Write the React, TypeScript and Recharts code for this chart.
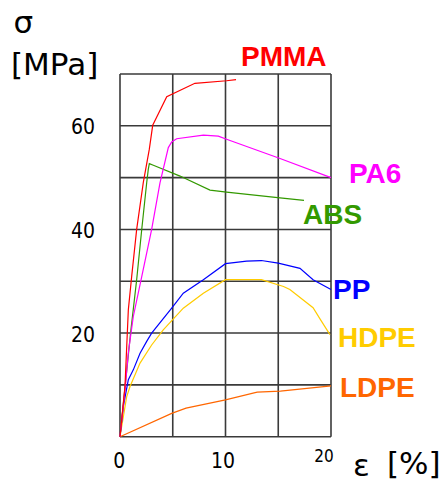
import React from "react";
import { LineChart, Line, XAxis, YAxis, CartesianGrid, Customized } from "recharts";

// Stress–strain curves of common thermoplastics: [strain %, stress MPa]
const pmma: [number, number][] = [
  [0, 0], [0.47, 9.7], [0.79, 24.5], [1.11, 31], [1.58, 40], [2.21, 49.1],
  [2.78, 55.5], [3.1, 60.1], [4.43, 65.6], [7.1, 68.2], [10.1, 68.7], [11.0, 68.9],
];
const pa6: [number, number][] = [
  [0, 0], [0.47, 9], [0.79, 16.2], [1.26, 23.2], [2.06, 30.9], [3.0, 40],
  [3.79, 49], [4.58, 55.8], [4.9, 56.9], [5.37, 57.5], [7.9, 58.2], [9.32, 58],
  [10.1, 57.4], [15.17, 53.7], [20, 50],
];
const abs: [number, number][] = [
  [0, 0], [0.45, 9], [1.0, 20], [1.58, 30.3], [2.06, 40], [2.53, 49], [2.68, 51.6],
  [2.78, 52.7], [3.16, 52.4], [5.69, 50.3], [8.53, 47.6], [10.1, 47.2],
  [15.17, 46.1], [17.44, 45.6],
];
const pp: [number, number][] = [
  [0, 0], [0.31, 5.8], [0.79, 11], [1.26, 12.9], [1.9, 16.1], [2.53, 18.4],
  [3.0, 20], [4.9, 24.8], [6.0, 27.7], [7.9, 30.3], [10.0, 33.4], [12.0, 33.9],
  [13.4, 34.0], [15.0, 33.5], [17.06, 32.5], [18.3, 30.3], [20, 28.4],
];
const hdpe: [number, number][] = [
  [0, 0], [0.63, 7.7], [0.95, 9.7], [1.9, 14.2], [3.0, 17.7], [4.1, 20.6],
  [6.0, 24.8], [7.9, 27.7], [10.0, 30.3], [13.4, 30.3], [15.5, 29], [16.1, 28.4],
  [18.3, 24.9], [19.0, 22.6], [19.9, 19.7],
];
const ldpe: [number, number][] = [
  [0, 0], [4.9, 4.5], [6.26, 5.5], [10.0, 7.1], [13.0, 8.6], [15.2, 8.8], [20, 9.8],
];

const strainTicks = [0, 5, 10, 15, 20];
const strainLabels = [0, 10, 20];
const stressTicks = [0, 10, 20, 30, 40, 50, 60, 70];
const stressLabels = [20, 40, 60];

const toRows = (pts: [number, number][]) => pts.map(([e, s]) => ({ e, s }));

const series = [
  { name: "LDPE", pts: ldpe, color: "#FF6600", lx: 340, ly: 397 },
  { name: "HDPE", pts: hdpe, color: "#FFCC00", lx: 338, ly: 347 },
  { name: "PP", pts: pp, color: "#0000FF", lx: 333, ly: 299 },
  { name: "ABS", pts: abs, color: "#339900", lx: 303, ly: 224 },
  { name: "PA6", pts: pa6, color: "#FF00FF", lx: 349, ly: 183 },
  { name: "PMMA", pts: pmma, color: "#FF0000", lx: 241, ly: 66 },
];

const tickFont = "'DejaVu Sans Condensed', 'Liberation Sans', sans-serif";

const XTick = (props: any) => {
  const { x, y, payload } = props;
  const v = payload.value;
  if (!strainLabels.includes(v)) return <g />;
  const last = v === 20;
  return (
    <text
      x={x + (last ? -7 : v === 10 ? -2.5 : -0.8)}
      y={y + (last ? 25 : 31.6)}
      textAnchor="middle"
      fontFamily={tickFont}
      fontSize={last ? 17 : 21}
      fill="#000"
    >
      {v}
    </text>
  );
};

const YTick = (props: any) => {
  const { x, y, payload } = props;
  const v = payload.value;
  if (!stressLabels.includes(v)) return <g />;
  return (
    <text x={x - 25} y={y + 8.5} textAnchor="end" fontFamily={tickFont} fontSize={21} fill="#000">
      {v}
    </text>
  );
};

const Annotations = () => (
  <g>
    <text x={13.5} y={33} fontFamily="'DejaVu Sans', sans-serif" fontSize={31} fill="#000">
      σ
    </text>
    <text x={11} y={75} fontFamily="'DejaVu Sans', sans-serif" fontSize={31} fill="#000">
      [MPa]
    </text>
    <text x={353} y={476} fontFamily="'DejaVu Sans', sans-serif" fontSize={31} fill="#000">
      ε
    </text>
    <text x={387} y={473.5} fontFamily="'DejaVu Sans', sans-serif" fontSize={31} fill="#000">
      [%]
    </text>
    {series.map((s) => (
      <text
        key={s.name}
        x={s.lx}
        y={s.ly}
        fontFamily="'Liberation Sans', Arial, sans-serif"
        fontWeight="bold"
        fontSize={28}
        fill={s.color}
      >
        {s.name}
      </text>
    ))}
  </g>
);

export default function App() {
  return (
    <div style={{ position: "absolute", left: 0, top: 0, width: 444, height: 484, background: "#fff" }}>
      <LineChart width={444} height={484} margin={{ top: 74, right: 113, bottom: 0, left: 0 }}>
        <CartesianGrid stroke="#3a3a3a" strokeWidth={1.6} />
        <XAxis
          type="number"
          dataKey="e"
          domain={[0, 20]}
          ticks={strainTicks}
          interval={0}
          height={47.3}
          axisLine={false}
          tickLine={false}
          tickSize={0}
          tickMargin={0}
          tick={<XTick />}
        />
        <YAxis
          type="number"
          dataKey="s"
          domain={[0, 70]}
          ticks={stressTicks}
          interval={0}
          width={120}
          axisLine={false}
          tickLine={false}
          tickSize={0}
          tickMargin={0}
          tick={<YTick />}
        />
        {series.map((s) => (
          <Line
            key={s.name}
            data={toRows(s.pts)}
            dataKey="s"
            type="linear"
            stroke={s.color}
            strokeWidth={1.2}
            dot={false}
            activeDot={false}
            isAnimationActive={false}
          />
        ))}
        <Customized component={Annotations} />
      </LineChart>
    </div>
  );
}
